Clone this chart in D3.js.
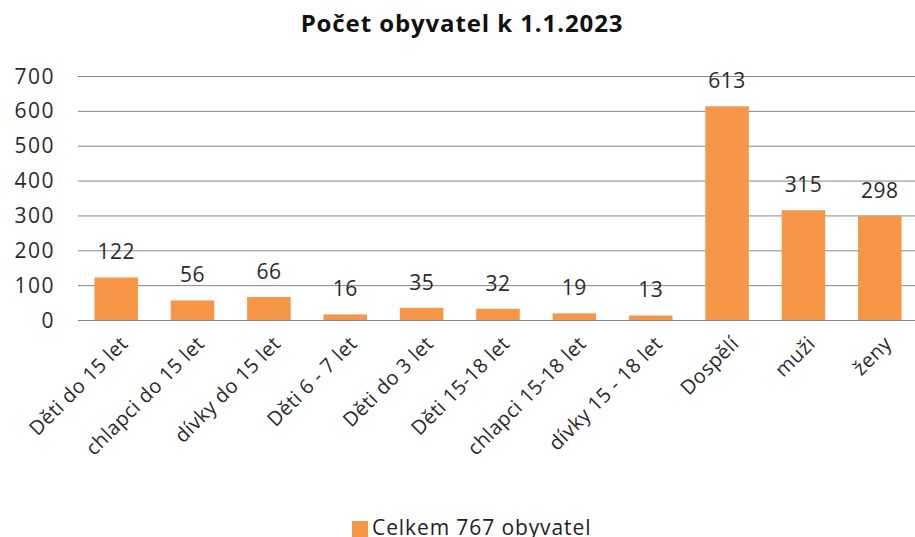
<!DOCTYPE html>
<html>
<head>
<meta charset="utf-8">
<script src="https://cdn.jsdelivr.net/npm/d3@7"></script>
<style>
  body { margin: 0; background: #fff; }
  svg { display: block; font-family: "Open Sans", sans-serif; }
  .grid line { stroke: #868686; stroke-width: 1; }
  .grid .domain { display: none; }
  .ytick text { fill: #2b2b2b; font-size: 21px; letter-spacing: 1.5px; }
  .xlab { fill: #2b2b2b; font-size: 20px; letter-spacing: 0.4px; }
  .val { fill: #2b2b2b; font-size: 21px; letter-spacing: 0.5px; }
</style>
</head>
<body>
<div id="chart"></div>
<script>
// data
var categories = ["Děti do 15 let", "chlapci do 15 let", "dívky do 15 let", "Děti 6 - 7 let",
  "Děti do 3 let", "Děti 15-18 let", "chlapci 15-18 let", "dívky 15 - 18 let", "Dospělí", "muži", "ženy"];
var values = [122, 56, 66, 16, 35, 32, 19, 13, 613, 315, 298];
var yTicks = [0, 100, 200, 300, 400, 500, 600, 700];
var title = "Počet obyvatel k 1.1.2023";
var legendLabel = "Celkem 767 obyvatel";

var W = 915, H = 537;
var plotL = 78, plotR = 918, plotT = 76, plotB = 320;
var orange = "#f79646";

var svg = d3.select("#chart").append("svg").attr("width", W).attr("height", H);

var x = d3.scaleBand().domain(categories).range([plotL, plotR]).paddingInner(0.43).paddingOuter(0.215);
var y = d3.scaleLinear().domain([0, 700]).range([plotB, plotT]);

// gridlines
svg.append("g").classed("grid", true)
  .attr("transform", `translate(${plotL},0)`)
  .call(d3.axisLeft(y).tickValues(yTicks).tickSize(-(W - plotL)).tickFormat(""));

// y labels
svg.append("g").classed("ytick", true).selectAll("text")
  .data(yTicks).enter().append("text")
  .attr("x", 55).attr("y", function(d){return y(d);})
  .attr("dy", "0.36em").attr("text-anchor", "end")
  .text(function(d){return d;});

// bars
svg.append("g").selectAll("rect")
  .data(values).enter().append("rect")
  .attr("x", function(d,i){return x(categories[i]);})
  .attr("width", x.bandwidth())
  .attr("y", function(d){return y(d);})
  .attr("height", function(d){return y(0) - y(d);})
  .attr("fill", orange);

// value labels
svg.append("g").selectAll("text")
  .data(values).enter().append("text").classed("val", true)
  .attr("x", function(d,i){return x(categories[i]) + x.bandwidth()/2;})
  .attr("y", function(d){return y(d) - 18;})
  .attr("text-anchor", "middle")
  .text(function(d){return d;});

// x labels rotated
svg.append("g").selectAll("text")
  .data(categories).enter().append("text").classed("xlab", true)
  .attr("transform", function(d){return `translate(${x(d) + x.bandwidth()/2 + 8},340) rotate(-45)`;})
  .attr("text-anchor", "end")
  .attr("dy", "0.35em")
  .text(function(d){return d;});

// title
svg.append("text")
  .attr("x", 462).attr("y", 32)
  .attr("text-anchor", "middle")
  .style("font-size", "24px").style("font-weight", "bold").style("letter-spacing", "0.9px").style("fill", "#111")
  .text(title);

// legend
var lg = svg.append("g").attr("transform", "translate(352,521)");
lg.append("rect").attr("width", 16).attr("height", 16).attr("fill", orange);
lg.append("text").attr("x", 20).attr("y", 14)
  .style("font-size", "21px").style("letter-spacing", "0.9px").style("fill", "#222")
  .text(legendLabel);
</script>
</body>
</html>
